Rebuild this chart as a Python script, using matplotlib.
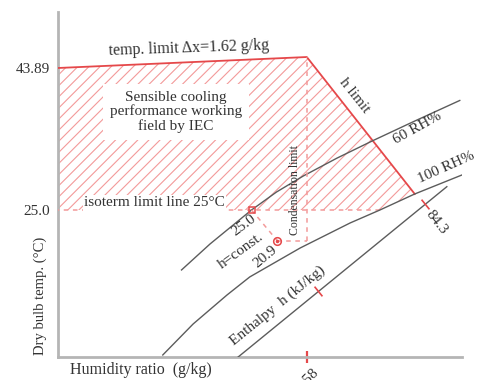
import matplotlib
matplotlib.use("Agg")
import matplotlib.pyplot as plt
from matplotlib.patches import Polygon

plt.rcParams['font.family'] = ['Liberation Serif', 'DejaVu Serif']
plt.rcParams['hatch.linewidth'] = 0.8

# Relative humidity curves: humidity ratio (g/kg) vs dry bulb temperature (°C)
rh60_x = [2.77, 3.41, 4.34, 4.90, 5.50, 6.25, 7.07, 7.97, 9.01]
rh60_t = [17.02, 20.48, 25.0, 27.39, 29.52, 31.88, 34.25, 36.75, 39.57]
rh100_x = [2.35, 3.03, 3.79, 4.30, 5.43, 6.55, 7.22, 8.00, 9.06]
rh100_t = [5.71, 9.83, 13.69, 16.09, 19.94, 23.27, 25.0, 27.13, 29.66]

# Constant enthalpy line and its marks
enthalpy_x = [4.04, 8.72]
enthalpy_t = [5.44, 28.10]
enthalpy_mark_x = [5.84, 8.23]
enthalpy_mark_t = [14.16, 25.73]
enthalpy_label = "84.3"

# Sensible cooling working field (IEC)
field_x = [0.0, 5.58, 8.00, 7.22, 0.0]
field_t = [43.89, 45.35, 27.13, 25.0, 25.0]

# Process states
state_in = (4.34, 25.0)
state_out = (4.92, 20.9)
dew_x = 5.58

y_ticks = [25.0, 43.89]
y_ticklabels = ["25.0", "43.89"]
x_ticks = [5.58]
x_ticklabels = ["5.58"]

RED = '#e5484a'
RED_LIGHT = '#f39a9a'
GREY = '#5c5c5c'
TXT = '#333333'

fig = plt.figure(figsize=(4.78, 3.80), dpi=100)
ax = fig.add_axes([58 / 478, 1 - 357 / 380, 404 / 478, 345 / 380])
ax.set_xlim(0, 9.06)
ax.set_ylim(5.44, 51.34)

# hatched working field
field = Polygon(list(zip(field_x, field_t)), closed=True, facecolor='none',
                edgecolor=RED_LIGHT, hatch='///', linewidth=0, zorder=1)
ax.add_patch(field)

# field borders
ax.plot(field_x[:3], field_t[:3], color=RED, lw=1.3, zorder=3)
ax.plot([field_x[3], field_x[4]], [field_t[3], field_t[4]], color=RED_LIGHT,
        lw=1.1, ls=(0, (3, 3)), zorder=3)

# humidity curves and enthalpy line
ax.plot(rh60_x, rh60_t, color=GREY, lw=1.0, zorder=4)
ax.plot(rh100_x, rh100_t, color=GREY, lw=1.0, zorder=4)
ax.plot(enthalpy_x, enthalpy_t, color=GREY, lw=1.0, zorder=4)
ax.plot(enthalpy_mark_x, enthalpy_mark_t, ls='none', marker=(2, 0, 39),
        markersize=9, markeredgecolor=RED, markeredgewidth=1.2, zorder=5)

# condensation limit and constant-enthalpy process
dash = dict(color=RED_LIGHT, lw=1.1, ls=(0, (3, 3)), zorder=4)
ax.plot([dew_x, dew_x], [state_out[1], field_t[1]], **dash)
ax.plot([state_out[0], dew_x], [state_out[1], state_out[1]], **dash)
ax.plot([state_in[0], state_out[0]], [state_in[1], state_out[1]], **dash)
ax.plot(*state_in, marker='s', ms=5, mfc='none', mec=RED, mew=1.1, zorder=6)
ax.plot(*state_out, marker='o', ms=5.5, mfc='none', mec=RED, mew=1.1, zorder=6)
ax.plot(*state_out, marker='o', ms=1.5, color=RED, zorder=6)

# axes styling
for side in ('top', 'right'):
    ax.spines[side].set_visible(False)
for side in ('left', 'bottom'):
    ax.spines[side].set_color('#b5b5b5')
    ax.spines[side].set_linewidth(2)

ax.set_yticks(y_ticks, y_ticklabels)
ax.tick_params(axis='y', length=0, pad=6, labelsize=11, labelcolor=TXT)
ax.set_xticks(x_ticks, x_ticklabels)
ax.tick_params(axis='x', length=9, width=1.6, color=RED, direction='inout',
               pad=2, labelsize=11, labelcolor=TXT, labelrotation=45)

ax.text(-0.045, 0.177, "Dry bulb temp. (°C)", transform=ax.transAxes,
        rotation=90, ha='center', va='center', fontsize=10.5, color=TXT)
ax.text(0.205, -0.038, "Humidity ratio  (g/kg)", transform=ax.transAxes,
        ha='center', va='center', fontsize=11.5, color=TXT)

# annotations
ax.text(2.94, 46.55, "temp. limit Δx=1.62 g/kg", ha='center', va='center',
        rotation=2, fontsize=11.5, color=TXT, zorder=7)
ax.text(2.65, 38.04, "Sensible cooling\nperformance working\nfield by IEC",
        ha='center', va='center', fontsize=11, color=TXT, linespacing=1.05,
        bbox=dict(boxstyle='square,pad=0.45', fc='white', ec='none'), zorder=7)
ax.text(2.17, 25.93, "isoterm limit line 25°C", ha='center', va='center',
        fontsize=11, color=TXT,
        bbox=dict(boxstyle='square,pad=0.08', fc='white', ec='none'), zorder=7)

rot = dict(ha='center', va='center', rotation_mode='anchor', color=TXT, zorder=7)
ax.text(6.64, 40.17, "h limit", rotation=-51.5, fontsize=11, **rot)
ax.text(8.07, 35.91, "60 RH%", rotation=29, fontsize=11, **rot)
ax.text(8.70, 30.59, "100 RH%", rotation=24, fontsize=11, **rot)
ax.text(8.49, 23.30, enthalpy_label, rotation=-52, fontsize=11, **rot)
ax.text(4.92, 12.23, "Enthalpy  h (kJ/kg)", rotation=39, fontsize=11, **rot)
ax.text(5.31, 27.66, "Condensation limit", rotation=90, fontsize=8.5, **rot)
ax.text(4.17, 23.0, "25.0", rotation=37, fontsize=11, **rot)
ax.text(4.10, 19.55, "h=const.", rotation=36, fontsize=11, **rot)
ax.text(4.66, 18.75, "20.9", rotation=40, fontsize=11, **rot)

fig.savefig("out.png", dpi=100)
